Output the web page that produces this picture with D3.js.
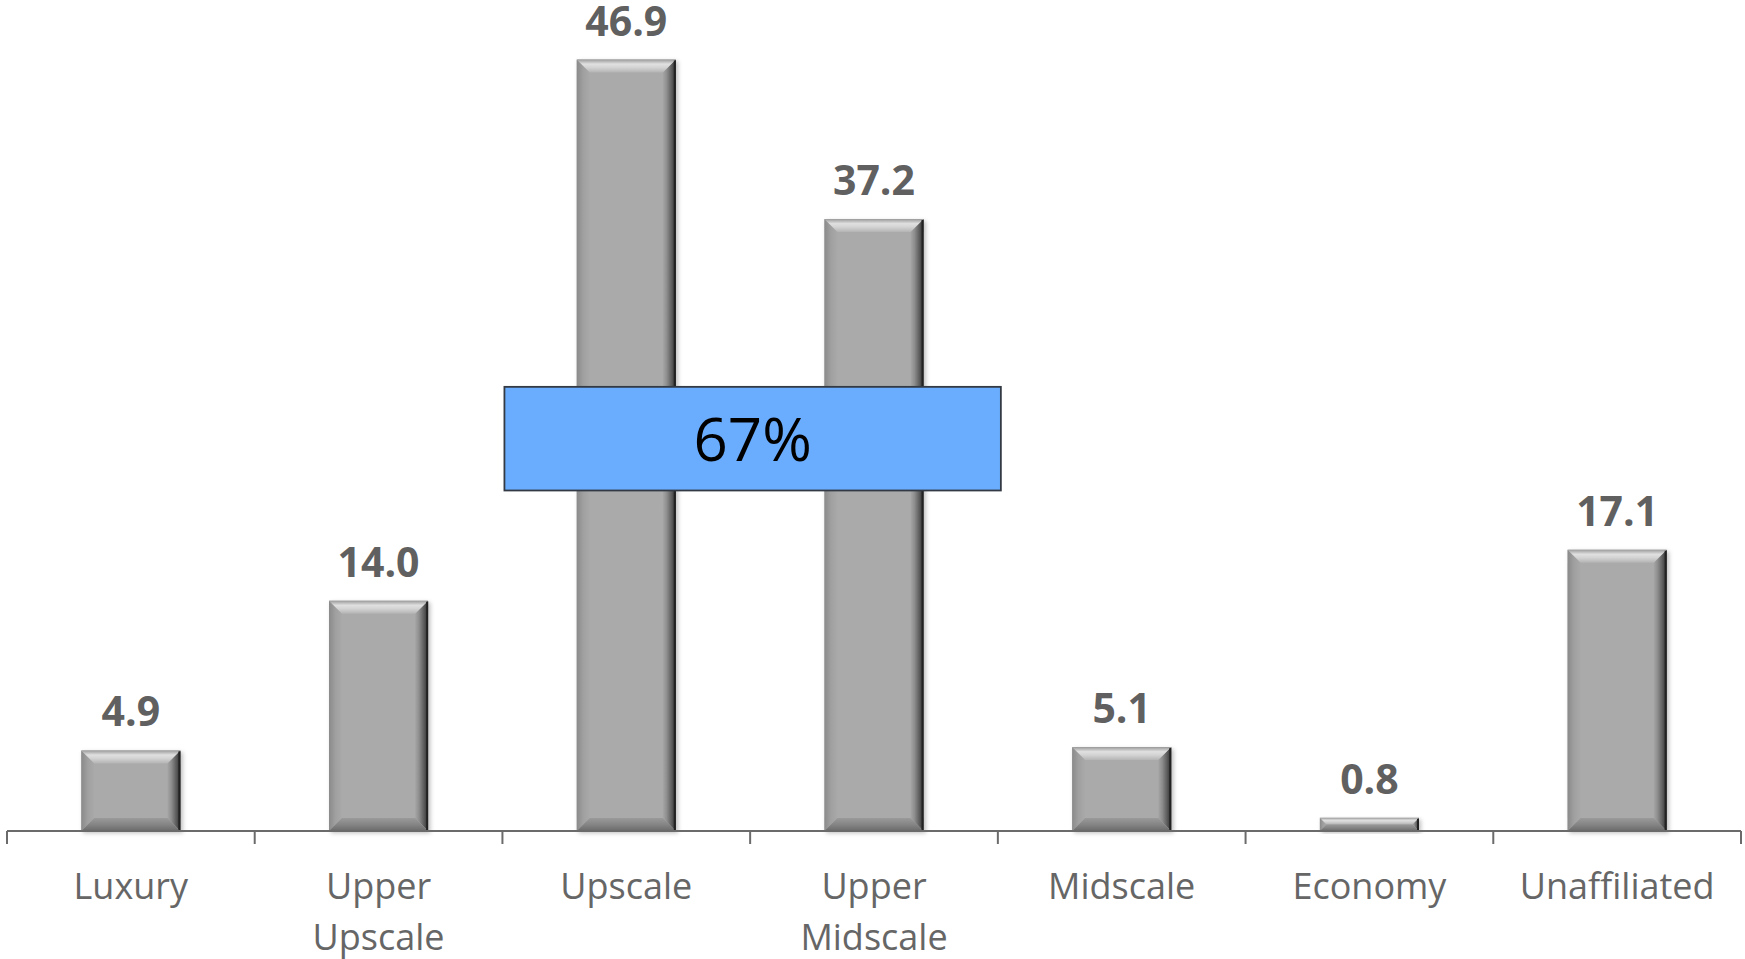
<!DOCTYPE html>
<html>
<head>
<meta charset="utf-8">
<script src="https://cdn.jsdelivr.net/npm/d3@7"></script>
<style>
  html, body { margin: 0; padding: 0; background: #fff; }
  svg { display: block; }
</style>
</head>
<body>
<div id="container"><svg></svg></div>
<script>
let width = 1745;
let height = 959;

// data
let categories = ["Luxury", "Upper Upscale", "Upscale", "Upper Midscale", "Midscale", "Economy", "Unaffiliated"];
let labelLines = [["Luxury"], ["Upper", "Upscale"], ["Upscale"], ["Upper", "Midscale"], ["Midscale"], ["Economy"], ["Unaffiliated"]];
let values = [4.9, 14.0, 46.9, 37.2, 5.1, 0.8, 17.1];

// callout box: spans these categories, between these values
let calloutText = "67%";
let calloutFrom = "Upscale";
let calloutTo = "Upper Midscale";
let calloutRange = [20.7, 27.0];

let svg = d3.select('#container').select('svg')
    .attr('width', width)
    .attr('height', height);

let x = d3.scaleBand()
    .domain(categories)
    .range([7, 1741])
    .paddingInner(0.6)
    .paddingOuter(0.3);

let y = d3.scaleLinear()
    .domain([0, 50])
    .range([831, 8.5]);

let step = x.step();
let bw = x.bandwidth();

// gradients for bevel
let defs = svg.append("defs");
function grad(id, x1, y1, x2, y2, stops) {
    let g = defs.append("linearGradient").attr("id", id)
        .attr("x1", x1).attr("y1", y1).attr("x2", x2).attr("y2", y2);
    stops.forEach(s => g.append("stop").attr("offset", s[0]).attr("stop-color", s[1]));
}
grad("bvTop", 0, 0, 0, 1, [[0, "#9a9a9a"], [0.35, "#e0e0e0"], [0.6, "#d4d4d4"], [1, "#b4b4b4"]]);
grad("bvLeft", 0, 0, 1, 0, [[0, "#8a8a8a"], [0.5, "#a0a0a0"], [1, "#a9a9a9"]]);
grad("bvRight", 1, 0, 0, 0, [[0, "#2e2e2e"], [0.3, "#5a5a5a"], [0.7, "#8e8e8e"], [1, "#a6a6a6"]]);
grad("bvBottom", 0, 1, 0, 0, [[0, "#6a6a6a"], [0.5, "#858585"], [1, "#9a9a9a"]]);

let filt = defs.append("filter").attr("id", "shadow")
    .attr("x", "-10%").attr("y", "-10%").attr("width", "130%").attr("height", "130%");
filt.append("feDropShadow").attr("dx", 2).attr("dy", 2).attr("stdDeviation", 2)
    .attr("flood-color", "#000").attr("flood-opacity", 0.25);

// bars
let bars = svg.append("g")
    .selectAll("g")
    .data(categories)
    .join("g")
    .attr("filter", "url(#shadow)");

bars.each(function(c, i) {
    let g = d3.select(this);
    let x0 = x(c), x1 = x(c) + bw;
    let y0 = y(values[i]), y1 = y(0);
    let h = y1 - y0;
    let b = Math.min(13, h / 2, bw / 2);
    g.append("rect")
        .attr("x", x0).attr("y", y0)
        .attr("width", bw).attr("height", h)
        .attr("fill", "#aaaaaa");
    let pts = (arr) => arr.map(p => p.join(",")).join(" ");
    // left
    g.append("polygon").attr("fill", "url(#bvLeft)")
        .attr("points", pts([[x0, y0], [x0 + b, y0 + b], [x0 + b, y1 - b], [x0, y1]]));
    // right
    g.append("polygon").attr("fill", "url(#bvRight)")
        .attr("points", pts([[x1, y0], [x1 - b, y0 + b], [x1 - b, y1 - b], [x1, y1]]));
    // top
    g.append("polygon").attr("fill", "url(#bvTop)")
        .attr("points", pts([[x0, y0], [x1, y0], [x1 - b, y0 + b], [x0 + b, y0 + b]]));
    // bottom
    g.append("polygon").attr("fill", "url(#bvBottom)")
        .attr("points", pts([[x0, y1], [x1, y1], [x1 - b, y1 - b], [x0 + b, y1 - b]]));
    // dark right edge line
    g.append("line")
        .attr("x1", x1 - 1).attr("x2", x1 - 1).attr("y1", y0 + 1).attr("y2", y1)
        .attr("stroke", "#222").attr("stroke-width", 2);
});

// value labels
svg.append("g")
    .selectAll("text")
    .data(categories)
    .join("text")
    .attr("x", c => x(c) + bw / 2)
    .attr("y", (c, i) => y(values[i]) - 24)
    .attr("text-anchor", "middle")
    .attr("font-family", "'Open Sans', sans-serif")
    .attr("font-weight", "bold")
    .attr("font-size", 41)
    .attr("fill", "#606060")
    .text((c, i) => values[i].toFixed(1));

// axis line and ticks
let axis = svg.append("g").attr("stroke", "#6b6b6b").attr("stroke-width", 2);
axis.append("line")
    .attr("x1", x.range()[0]).attr("x2", x.range()[1])
    .attr("y1", y(0)).attr("y2", y(0));
let tickX = categories.map(c => x(c) - step * x.paddingOuter()).concat([x.range()[1]]);
axis.selectAll("line.tick")
    .data(tickX)
    .join("line")
    .attr("class", "tick")
    .attr("x1", d => d).attr("x2", d => d)
    .attr("y1", y(0)).attr("y2", y(0) + 13);

// category labels
let cl = svg.append("g")
    .selectAll("text")
    .data(categories)
    .join("text")
    .attr("x", c => x(c) + bw / 2)
    .attr("y", 899)
    .attr("text-anchor", "middle")
    .attr("font-family", "'Open Sans', sans-serif")
    .attr("font-size", 36)
    .attr("fill", "#666666");
cl.selectAll("tspan")
    .data((c, i) => labelLines[i])
    .join("tspan")
    .attr("x", function() { return d3.select(this.parentNode).attr("x"); })
    .attr("dy", (d, j) => j === 0 ? 0 : 51)
    .text(d => d);

// callout box
let bx0 = x(calloutFrom) - step * x.paddingOuter() + 2;
let bx1 = x(calloutTo) + bw + step * x.paddingOuter() + 3;
let by0 = y(calloutRange[1]);
let by1 = y(calloutRange[0]);
svg.append("rect")
    .attr("x", bx0).attr("y", by0)
    .attr("width", bx1 - bx0).attr("height", by1 - by0)
    .attr("fill", "#6aadff")
    .attr("stroke", "#333a44")
    .attr("stroke-width", 1.8);
svg.append("text")
    .attr("x", (bx0 + bx1) / 2)
    .attr("y", (by0 + by1) / 2 + 22)
    .attr("text-anchor", "middle")
    .attr("font-family", "'Open Sans', sans-serif")
    .attr("font-size", 60)
    .attr("fill", "#000")
    .text(calloutText);
</script>
</body>
</html>
